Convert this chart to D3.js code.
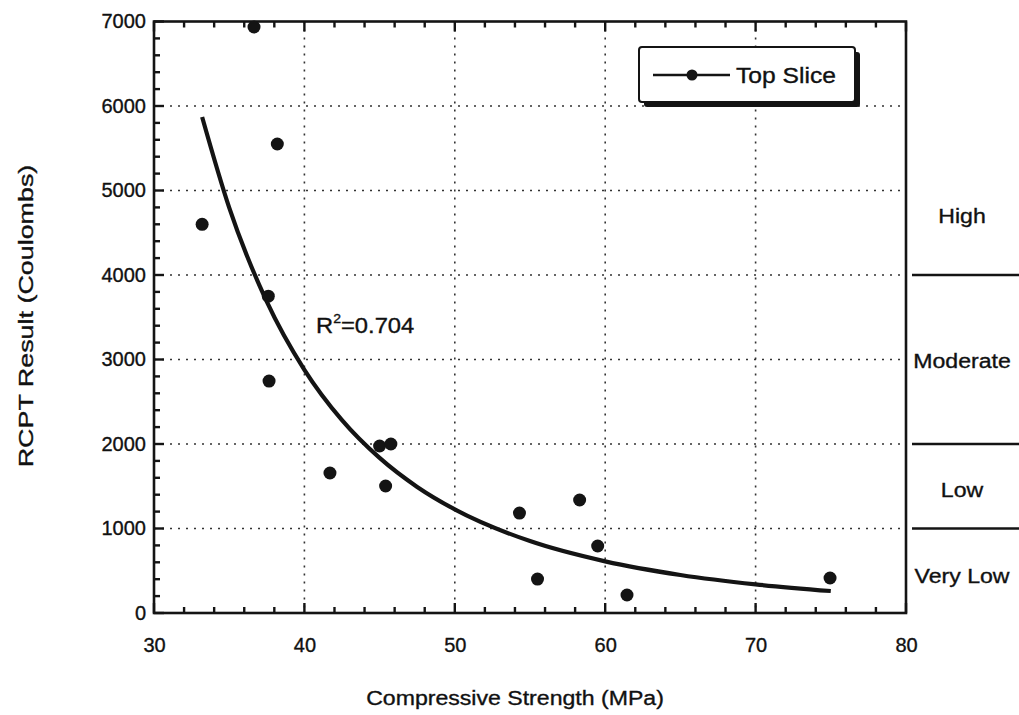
<!DOCTYPE html>
<html><head><meta charset="utf-8">
<script src="https://cdn.jsdelivr.net/npm/d3@7/dist/d3.min.js"></script>
<style>
html,body{margin:0;padding:0;background:#fff;}
svg{display:block;}
text{font-family:"Liberation Sans",Arial,Helvetica,sans-serif;fill:#111;stroke:#111;stroke-width:0.35px;}
</style></head>
<body>
<svg id="chart" width="1019" height="715"></svg>
<script>
// ---- data ----
const strength = [33.2, 36.65, 38.2, 37.6, 37.65, 41.7, 45.0, 45.75, 45.4, 54.3, 55.5, 58.3, 59.5, 61.45, 74.95];
const rcpt     = [4600, 6935, 5550, 3750, 2745, 1657, 1976, 2000, 1503, 1183, 402, 1337, 793, 213, 414];
const fitX = [33.2, 35, 37.5, 40, 42.5, 45, 47.5, 50, 55, 60, 65, 70, 75];
const fitY = [5870, 4797, 3685, 2878, 2282, 1835, 1492, 1226, 851, 611, 450, 339, 260];
const xTicks = [30, 40, 50, 60, 70, 80];
const yTicks = [0, 1000, 2000, 3000, 4000, 5000, 6000, 7000];
const classNames = ["High", "Moderate", "Low", "Very Low"];
const classLabelY = [4700, 2980, 1450, 440];
const classBounds = [4000, 2000, 1000];
const seriesName = "Top Slice";
const r2Label = "0.704";

// ---- layout ----
const L = 154, R = 906, T = 21.5, B = 613;
const svg = d3.select("#chart");
const x = d3.scaleLinear().domain([30, 80]).range([L, R]);
const y = d3.scaleLinear().domain([0, 7000]).range([B, T]);
const ink = "#141414";

// grid
const g = svg.append("g");
g.selectAll(".gx").data(xTicks.slice(1, -1)).join("line")
  .attr("x1", d => x(d)).attr("x2", d => x(d)).attr("y1", T).attr("y2", B)
  .attr("stroke", "#333").attr("stroke-width", 1.6).attr("stroke-dasharray", "2,6");
g.selectAll(".gy").data(yTicks.slice(1, -1)).join("line")
  .attr("y1", d => y(d)).attr("y2", d => y(d)).attr("x1", L).attr("x2", R)
  .attr("stroke", "#333").attr("stroke-width", 1.6).attr("stroke-dasharray", "2,6");

// minor tick values
const xMinor = d3.range(30, 80.001, 2).filter(v => !xTicks.includes(v));
const yMinor = d3.range(0, 7000.001, 200).filter(v => !yTicks.includes(v));

// tick labels via d3 axes
function styleAxis(sel) {
  sel.select(".domain").remove();
  sel.selectAll(".tick line").remove();
  sel.selectAll("text").attr("font-size", 20).attr("fill", ink)
    .attr("font-family", '"Liberation Sans",Arial,sans-serif');
}
svg.append("g").attr("transform", `translate(0,${B})`)
  .call(d3.axisBottom(x).tickValues(xTicks).tickSize(0).tickPadding(25).tickFormat(d3.format("d")))
  .call(styleAxis);
svg.append("g").attr("transform", `translate(${L},0)`)
  .call(d3.axisLeft(y).tickValues(yTicks).tickSize(0).tickPadding(8).tickFormat(d3.format("d")))
  .call(styleAxis);

// inward tick marks
const tk = svg.append("g").attr("stroke", ink).attr("stroke-width", 2.4);
function xTickMarks(vals, len) {
  tk.append("g").selectAll("line").data(vals).join("line")
    .attr("x1", d => x(d)).attr("x2", d => x(d)).attr("y1", B).attr("y2", B - len);
  tk.append("g").selectAll("line").data(vals).join("line")
    .attr("x1", d => x(d)).attr("x2", d => x(d)).attr("y1", T).attr("y2", T + len);
}
function yTickMarks(vals, len) {
  tk.append("g").selectAll("line").data(vals).join("line")
    .attr("y1", d => y(d)).attr("y2", d => y(d)).attr("x1", L).attr("x2", L + len);
}
xTickMarks(xTicks, 10); xTickMarks(xMinor, 6);
yTickMarks(yTicks, 10); yTickMarks(yMinor, 6);

// frame
svg.append("rect").attr("x", L).attr("y", T).attr("width", R - L).attr("height", B - T)
  .attr("fill", "none").attr("stroke", ink).attr("stroke-width", 2.6);

// fit curve
const line = d3.line().x((d, i) => x(fitX[i])).y(d => y(d)).curve(d3.curveMonotoneX);
svg.append("path").datum(fitY).attr("d", line)
  .attr("fill", "none").attr("stroke", ink).attr("stroke-width", 4.2);

// points
svg.append("g").selectAll("circle").data(strength).join("circle")
  .attr("cx", d => x(d)).attr("cy", (d, i) => y(rcpt[i])).attr("r", 6.5).attr("fill", ink);

// R^2 label
const r2 = svg.append("text").attr("font-size", 22)
  .attr("transform", `translate(316,333) scale(1.08,1)`);
r2.append("tspan").text("R");
r2.append("tspan").text("2").attr("font-size", 13).attr("dy", -10);
r2.append("tspan").text("=" + r2Label).attr("dy", 10);

// legend
const lgX = 639, lgY = 47, lgW = 216, lgH = 55;
svg.append("rect").attr("x", lgX + 5).attr("y", lgY + 5).attr("width", lgW).attr("height", lgH)
  .attr("rx", 3).attr("fill", ink);
svg.append("rect").attr("x", lgX).attr("y", lgY).attr("width", lgW).attr("height", lgH)
  .attr("rx", 3).attr("fill", "#fff").attr("stroke", ink).attr("stroke-width", 2);
svg.append("line").attr("x1", lgX + 14).attr("x2", lgX + 91).attr("y1", lgY + 28).attr("y2", lgY + 28)
  .attr("stroke", ink).attr("stroke-width", 2.5);
svg.append("circle").attr("cx", lgX + 53).attr("cy", lgY + 28).attr("r", 5.5).attr("fill", ink);
svg.append("text").text(seriesName).attr("font-size", 22)
  .attr("transform", `translate(${lgX + 97},${lgY + 36}) scale(1.12,1)`);

// right side classes
svg.append("g").selectAll("line").data(classBounds).join("line")
  .attr("x1", 912).attr("x2", 1019).attr("y1", d => y(d)).attr("y2", d => y(d))
  .attr("stroke", ink).attr("stroke-width", 2.6);
svg.append("g").selectAll("text").data(classNames).join("text")
  .text(d => d).attr("font-size", 21).attr("text-anchor", "middle")
  .attr("transform", (d, i) => `translate(962,${y(classLabelY[i]) + 7}) scale(1.1,1)`);

// axis titles
svg.append("text").text("Compressive Strength (MPa)").attr("font-size", 21)
  .attr("text-anchor", "middle").attr("transform", `translate(515,705) scale(1.1,1)`);
svg.append("text").text("RCPT Result (Coulombs)").attr("font-size", 21)
  .attr("text-anchor", "middle").attr("transform", `translate(33,316) rotate(-90) scale(1.28,1)`);
</script>
</body></html>
